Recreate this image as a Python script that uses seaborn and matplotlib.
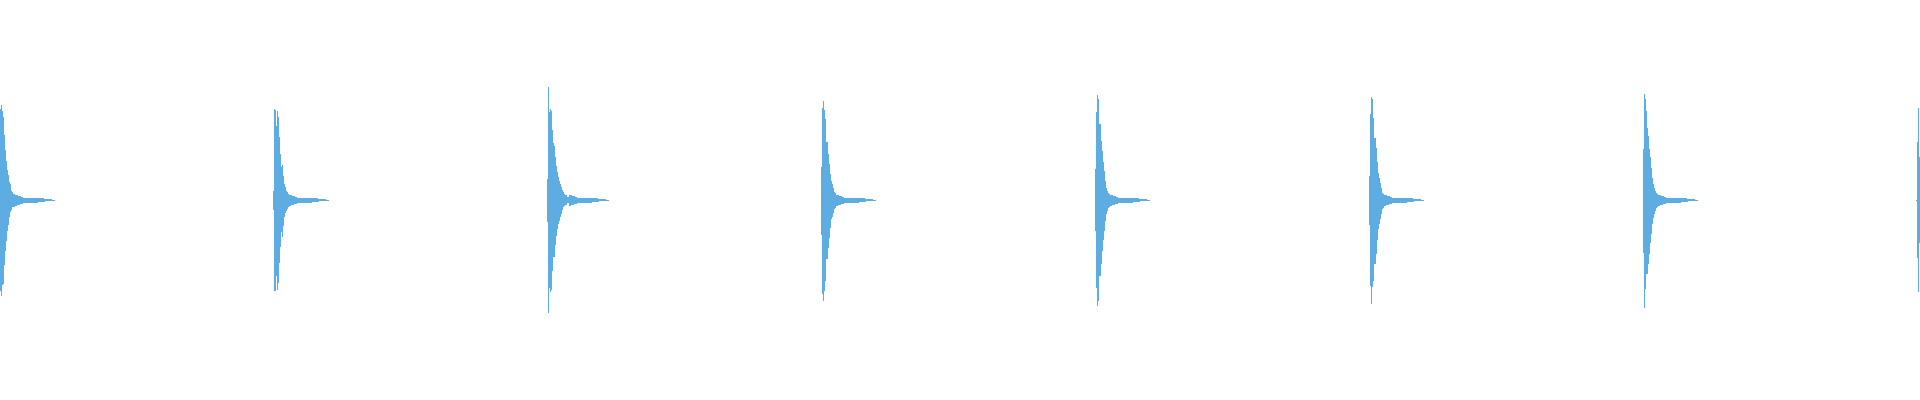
import numpy as np
import pandas as pd
import matplotlib
matplotlib.use("Agg")
import matplotlib.pyplot as plt
import seaborn as sns

# Start column (pixel sample index) of each percussive hit
hit_starts = [0, 273, 547, 821, 1095, 1369, 1643, 1916]

# Per-hit attack envelopes (upper / lower amplitude per sample column)
hit_top = [
    [91, 95, 89, 83, 65, 50, 39, 30, 25, 18, 16, 9, 8, 6, 6],
    [9, 91, 90, 74, 89, 83, 63, 46, 33, 35, 24, 16, 13, 9, 8, 6],
    [21, 113, 88, 91, 89, 70, 57, 54, 43, 34, 28, 23, 19, 16, 13, 10, 8, 6, 5, 5, 3, 3],
    [33, 92, 99, 90, 81, 58, 58, 46, 36, 26, 19, 16, 12, 8, 7],
    [31, 88, 105, 101, 76, 76, 59, 49, 38, 29, 19, 12, 9, 7, 6],
    [24, 86, 103, 101, 82, 62, 62, 52, 38, 27, 22, 17, 12, 7, 6],
    [51, 106, 101, 89, 72, 64, 51, 43, 32, 22, 16, 12, 9, 7, 6],
    [0.5, 58, 92, 43],
]
hit_bottom = [
    [91, 96, 85, 84, 65, 51, 41, 31, 25, 17, 12, 10, 7, 7, 7],
    [10, 91, 91, 76, 90, 83, 63, 47, 32, 37, 26, 17, 13, 11, 9, 7],
    [22, 113, 88, 92, 90, 71, 57, 57, 45, 36, 29, 24, 21, 17, 14, 10, 7, 6, 5, 5, 3, 3],
    [35, 94, 101, 91, 81, 59, 59, 48, 38, 28, 19, 17, 13, 9, 8],
    [31, 88, 106, 101, 76, 76, 64, 51, 40, 31, 21, 14, 11, 8, 7],
    [25, 86, 104, 87, 81, 64, 64, 54, 40, 29, 24, 19, 14, 9, 8],
    [53, 108, 89, 74, 74, 64, 54, 43, 34, 24, 18, 14, 11, 8, 7],
    [0.5, 58, 92, 43],
]

# Shared decay tail following each attack
tail_top = [5, 5, 5, 4, 4, 4, 3, 3, 2.5, 2.5, 2, 2.5, 2, 2.5, 2.5, 2, 2.5, 2, 2,
            2.5, 2, 2.5, 2, 2, 2.5, 2, 2, 1.7, 1.7, 1.5, 1.5, 1.5, 1, 1, 0.7,
            0.7, 0.7, 0.5, 0.5, 0.5, 0.4, 0.4, 0.3, 0.3]
tail_bottom = [6, 6, 5, 5, 4.5, 4, 4, 3.5, 3, 3, 2.7, 2.7, 2.7, 3, 2.7, 2.7, 2.7,
               2.5, 2.7, 2.7, 2.5, 2.5, 2.5, 2.3, 2.3, 2, 2, 1.7, 1.5, 1.5, 1.3,
               1, 1, 1, 0.8, 0.7, 0.7, 0.5, 0.5, 0.5, 0.4, 0.4, 0.3, 0.3]

rows = []
for k, start in enumerate(hit_starts):
    top = list(hit_top[k])
    bot = list(hit_bottom[k])
    if k < len(hit_starts) - 1:
        top += tail_top
        bot += tail_bottom
    for i, (t, b) in enumerate(zip(top, bot)):
        rows.append({"x": start + i + 0.5, "top": t, "bottom": -b})
df = pd.DataFrame(rows)

sns.set_theme(style="white")
color = "#5dade2"

fig = plt.figure(figsize=(19.2, 4.0), dpi=100)
ax = fig.add_axes([0, 0, 1, 1])
sns.barplot(data=df, x="x", y="top", native_scale=True, width=1.0,
            color=color, saturation=1, linewidth=0, errorbar=None, ax=ax)
sns.barplot(data=df, x="x", y="bottom", native_scale=True, width=1.0,
            color=color, saturation=1, linewidth=0, errorbar=None, ax=ax)
ax.set_xlim(0, 1920)
ax.set_ylim(-200, 200)
ax.axis("off")
fig.savefig("out.png", dpi=100, facecolor="white")
